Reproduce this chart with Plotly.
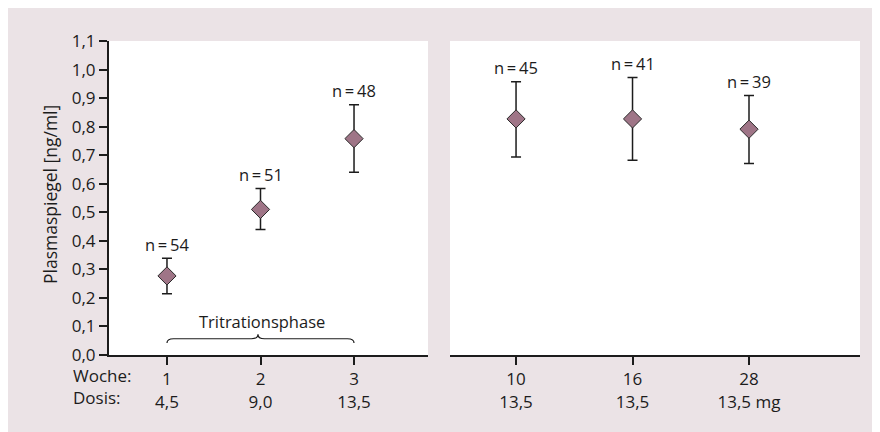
import plotly.graph_objects as go

# ---------------- data ----------------
weeks_left = ["1", "2", "3"]
doses_left = ["4,5", "9,0", "13,5"]
mean_left = [0.277, 0.510, 0.758]
upper_left = [0.339, 0.583, 0.877]
lower_left = [0.215, 0.440, 0.640]
n_left = [54, 51, 48]

weeks_right = ["10", "16", "28"]
doses_right = ["13,5", "13,5", "13,5 mg"]
mean_right = [0.827, 0.827, 0.791]
upper_right = [0.957, 0.972, 0.909]
lower_right = [0.694, 0.682, 0.671]
n_right = [45, 41, 39]

y_tick_vals = [0.0, 0.1, 0.2, 0.3, 0.4, 0.5, 0.6, 0.7, 0.8, 0.9, 1.0, 1.1]
row_labels = ["Woche:", "Dosis:"]
y_title = "Plasmaspiegel [ng/ml]"
phase_label = "Tritrationsphase"

# ---------------- style / geometry ----------------
FONT = "Open Sans"
BG = "#ebe3e6"
MARKER = "#9f7587"
INK = "#1c1c1c"
OFF = 8                      # page body margin
W, H = 880, 432              # figure size (overflow is clipped by the window)
# plot-area edges in window pixels
LEFT, RIGHT, TOP, BOTTOM = 109, 860, 41, 355
ML, MR = LEFT - OFF, (W + OFF) - RIGHT
MT, MB = TOP - OFF, (H + OFF) - BOTTOM
PW = RIGHT - LEFT
PH = BOTTOM - TOP


def px_x(p):
    """window x pixel -> paper fraction"""
    return (p - LEFT) / PW


def px_y(p):
    """window y pixel -> paper fraction"""
    return (BOTTOM - p) / PH


fig = go.Figure()


def add_series(xref, yref, weeks, mean, upper, lower, ns):
    idx = list(range(len(weeks)))
    fig.add_trace(go.Scatter(
        x=idx, y=mean, mode="markers",
        xaxis=xref, yaxis=yref,
        marker=dict(symbol="diamond", size=14, color=MARKER,
                    line=dict(color="#2a2a2a", width=1)),
        error_y=dict(type="data", symmetric=False,
                     array=[u - m for u, m in zip(upper, mean)],
                     arrayminus=[m - l for m, l in zip(mean, lower)],
                     color=INK, thickness=1.5, width=5),
        showlegend=False, hoverinfo="skip",
    ))
    for i, (u, n) in enumerate(zip(upper, ns)):
        fig.add_annotation(
            x=i, y=u, xref=xref, yref=yref,
            text=f"n\u2009=\u2009{n}", showarrow=False,
            yanchor="middle", yshift=14,
            font=dict(family=FONT, size=16.5, color=INK),
        )
    return idx


idx_l = add_series("x", "y", weeks_left, mean_left, upper_left,
                   lower_left, n_left)
idx_r = add_series("x2", "y2", weeks_right, mean_right, upper_right,
                   lower_right, n_right)

axis_common = dict(
    showgrid=False, zeroline=False, showline=True, linecolor=INK,
    linewidth=2, ticks="outside", ticklen=8, tickwidth=2, tickcolor=INK,
    tickfont=dict(family=FONT, size=17, color=INK), fixedrange=True,
)

fig.update_layout(
    width=W, height=H,
    margin=dict(l=ML, r=MR, t=MT, b=MB, autoexpand=False),
    paper_bgcolor=BG, plot_bgcolor="white",
    separators=",.",
    font=dict(family=FONT, size=16, color=INK),
    xaxis=dict(domain=[0, px_x(428)], range=[-0.620, 2.791],
               tickvals=idx_l,
               ticktext=[f"{w}<br>{d}" for w, d in zip(weeks_left, doses_left)],
               anchor="y", **axis_common),
    xaxis2=dict(domain=[px_x(450), 1], range=[-0.567, 2.953],
                tickvals=idx_r,
                ticktext=[f"{w}<br>{d}" for w, d in zip(weeks_right, doses_right)],
                anchor="y2", **axis_common),
    yaxis=dict(domain=[0, 1], range=[0, 1.1], tickvals=y_tick_vals,
               tickformat=".1f", anchor="x", **axis_common),
    yaxis2=dict(domain=[0, 1], range=[0, 1.1], visible=False,
                anchor="x2", fixedrange=True),
)

# y axis title
fig.add_annotation(
    x=px_x(50), y=px_y(195), xref="paper", yref="paper",
    text=y_title, textangle=-90, showarrow=False,
    xanchor="center", yanchor="middle",
    font=dict(family=FONT, size=17.5, color=INK),
)

# row labels under the left axis
for lab, py in zip(row_labels, [375, 397]):
    fig.add_annotation(
        x=px_x(71), y=px_y(py), xref="paper", yref="paper",
        text=lab, showarrow=False, xanchor="left", yanchor="middle",
        font=dict(family=FONT, size=17, color=INK),
    )

# brace over the titration weeks
x0, x2 = idx_l[0], idx_l[-1]
xm = 0.973
y_end, y_h, y_tip = 0.042, 0.057, 0.073
c = 0.07
path = (f"M {x0},{y_end} Q {x0},{y_h} {x0 + c},{y_h} "
        f"L {xm - c},{y_h} Q {xm},{y_h} {xm},{y_tip} "
        f"Q {xm},{y_h} {xm + c},{y_h} "
        f"L {x2 - c},{y_h} Q {x2},{y_h} {x2},{y_end}")
fig.add_shape(type="path", path=path, xref="x", yref="y",
              line=dict(color=INK, width=1.2))
fig.add_annotation(
    x=1.02, y=0.119, xref="x", yref="y", text=phase_label,
    showarrow=False, xanchor="center", yanchor="middle",
    font=dict(family=FONT, size=16.5, color=INK),
)

fig.write_html("out.html", config={"displayModeBar": False},
               post_script="document.body.style.overflow='hidden';")
